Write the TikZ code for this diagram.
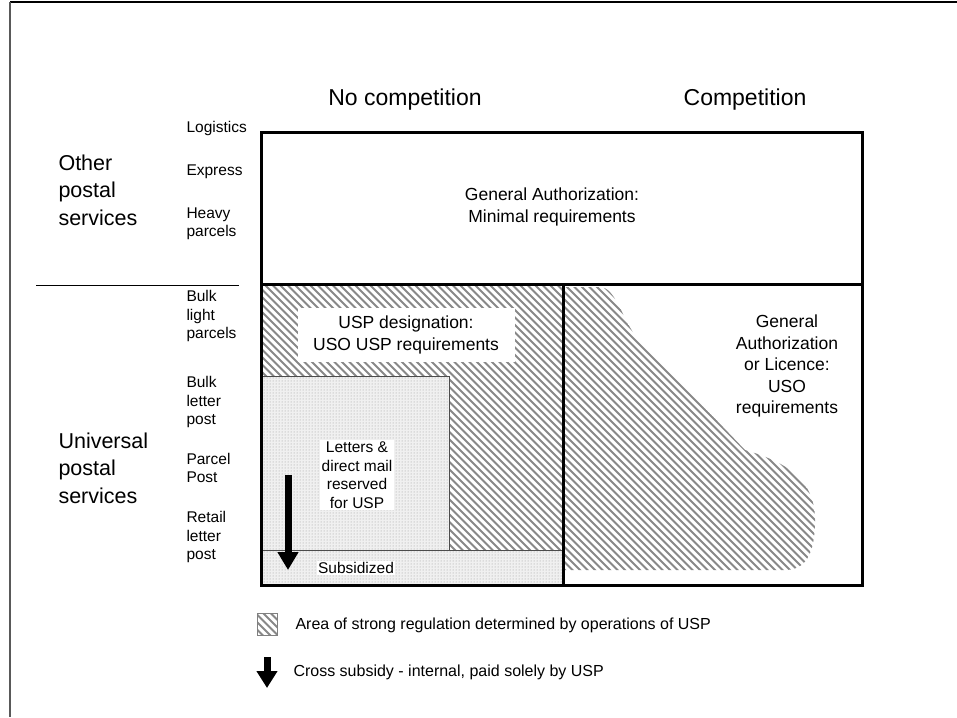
\documentclass[tikz,border=0pt]{standalone}
\usepackage{fontspec}
\setmainfont{Liberation Sans}
\usetikzlibrary{arrows.meta, patterns, positioning}
\definecolor{hatchgray}{RGB}{136,136,136}
\definecolor{dotgray}{RGB}{150,150,150}

% diagonal hatching, to be used inside a clipped scope
\newcommand{\hatchlines}{%
  \foreach \k in {0,...,140}
    \draw[hatch] ({\k*7.5-160},250) -- ++(400,400);}

\begin{document}
\begin{tikzpicture}[
    x=1pt, y=-1pt,
    boxline/.style={line width=3pt},
    thinline/.style={line width=0.8pt, draw=black!70},
    hatch/.style={line width=1.8pt, hatchgray},
    dotarea/.style={fill=black!6, postaction={pattern=dots, pattern color=dotgray}},
    colhead/.style={font=\fontsize{23}{27}\selectfont},
    grouplabel/.style={font=\fontsize{21.5}{27.5}\selectfont, align=left, anchor=west},
    itemlabel/.style={font=\fontsize{15.5}{18.5}\selectfont, align=left, anchor=west},
    boxtext/.style={font=\fontsize{17.5}{21.5}\selectfont, align=center},
    smalltext/.style={font=\fontsize{15.5}{18.5}\selectfont, align=center, fill=white},
    crossarrow/.style={-{Triangle[width=20pt,length=18pt]}, line width=7pt},
    legendtext/.style={font=\fontsize{16}{19}\selectfont, anchor=west}
]
\useasboundingbox (0,0) rectangle (957,717);

% Page frame
\draw[line width=1.5pt] (10,2) -- (957,2);
\draw[line width=2pt, black!65] (10,2) -- (10,717);

% Hatched areas
\begin{scope}
  \clip (261,284) rectangle (563,585);
  \hatchlines
\end{scope}
\begin{scope}
  \clip (563,287) -- (600,287) .. controls (615,287) and (622,318) .. (635,335)
    -- (745,450) .. controls (790,463) and (815,482) .. (815,520)
    .. controls (815,555) and (805,570) .. (785,570) -- (563,570) -- cycle;
  \hatchlines
\end{scope}

% Dotted areas
\draw[thinline, dotarea] (261,376) rectangle (449,550);
\draw[thinline, dotarea] (261,550) rectangle (563,585);

% Boxes
\draw[boxline] (261,132) rectangle (862,284);
\draw[boxline] (261,284) rectangle (563,585);
\draw[boxline] (563,284) rectangle (862,585);

% Column headings
\node[colhead] (nocomp) at (405,100) {No competition};
\node[colhead] (comp) at (745,100) {Competition};

% Row groups
\node[grouplabel] (other) at (55,190) {Other\\postal\\services};
\node[grouplabel] (universal) at (55,468) {Universal\\postal\\services};
\coordinate (sepl) at (36,285);
\coordinate (sepr) at (239,285);
\draw[line width=1pt] (sepl) -- (sepr);

% Services
\node[itemlabel] (logistics) at (183,128) {Logistics};
\node[itemlabel] (express) at (183,172) {Express};
\node[itemlabel] (heavy) at (183,224) {Heavy\\parcels};
\node[itemlabel] (bulkparcel) at (183,316) {Bulk\\light\\parcels};
\node[itemlabel] (bulkletter) at (183,402) {Bulk\\letter\\post};
\node[itemlabel] (parcelpost) at (183,468) {Parcel\\Post};
\node[itemlabel] (retail) at (183,537) {Retail\\letter\\post};

% Box texts
\node[boxtext] (genauth) at (552,207) {General Authorization:\\Minimal requirements};
\node[boxtext, fill=white, minimum width=217pt, minimum height=54pt] (uspdes) at (406,335)
  {USP designation:\\USO USP requirements};
\node[boxtext] (licence) at (787,366) {General\\Authorization\\or Licence:\\USO\\requirements};
\node[smalltext, inner sep=2pt] (letters) at (357,475) {Letters \&\\direct mail\\reserved\\for USP};
\node[smalltext, inner sep=1.5pt] (subsidized) at (356,568) {Subsidized};

% Cross subsidy arrow
\coordinate (arrtop) at (288,475);
\coordinate (arrtip) at (288,570);
\draw[crossarrow] (arrtop) -- (arrtip);

% Legend
\begin{scope}
  \clip (257,613) rectangle (277,635);
  \hatchlines
\end{scope}
\draw[thinline, draw=black!50] (257,613) rectangle (277,635);
\node[legendtext] (leghatch) at (292,625) {Area of strong regulation determined by operations of USP};
\coordinate (legtop) at (267,657);
\coordinate (legtip) at (267,688);
\draw[-{Triangle[width=20pt,length=17pt]}, line width=7pt] (legtop) -- (legtip);
\node[legendtext] (legarrow) at (290,672) {Cross subsidy - internal, paid solely by USP};

\end{tikzpicture}
\end{document}
